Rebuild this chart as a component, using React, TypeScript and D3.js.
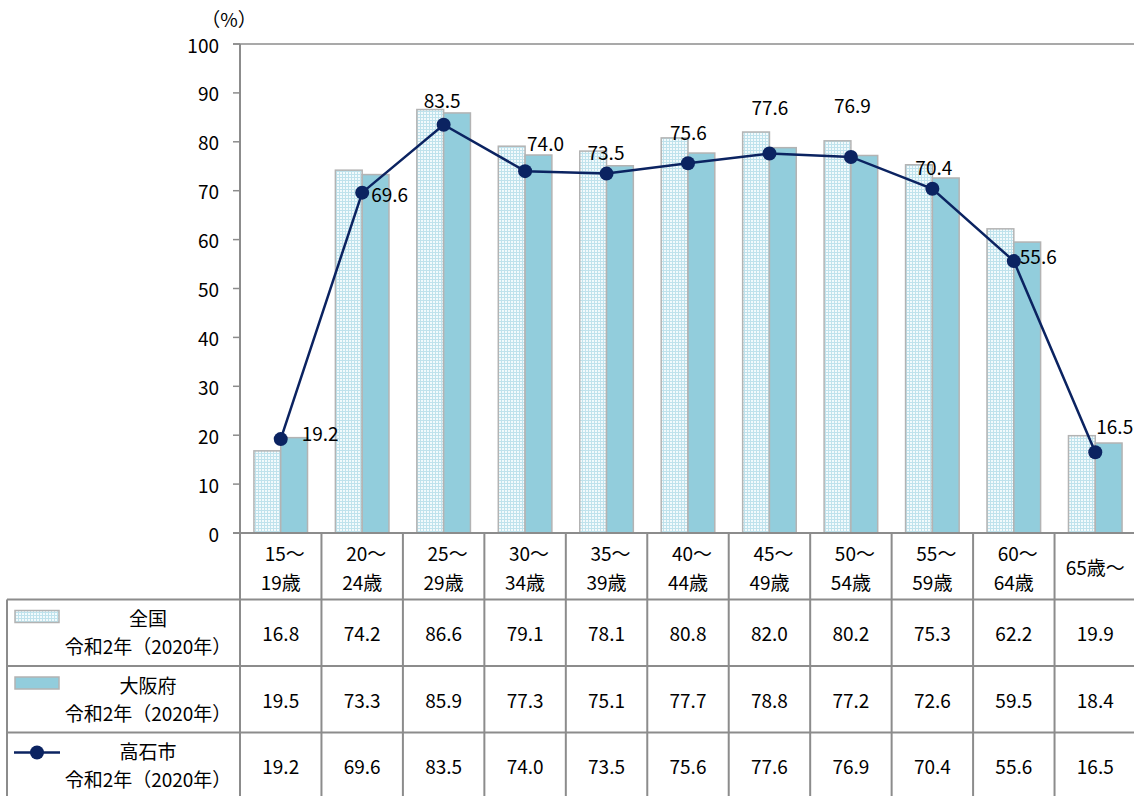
import React from "react";
import * as d3 from "d3";

const categories = ["15～19歳", "20～24歳", "25～29歳", "30～34歳", "35～39歳", "40～44歳", "45～49歳", "50～54歳", "55～59歳", "60～64歳", "65歳～"];
const headerLines = [["15～", "19歳"], ["20～", "24歳"], ["25～", "29歳"], ["30～", "34歳"], ["35～", "39歳"], ["40～", "44歳"], ["45～", "49歳"], ["50～", "54歳"], ["55～", "59歳"], ["60～", "64歳"], ["65歳～"]];
const zenkoku = [16.8, 74.2, 86.6, 79.1, 78.1, 80.8, 82.0, 80.2, 75.3, 62.2, 19.9];
const osaka = [19.5, 73.3, 85.9, 77.3, 75.1, 77.7, 78.8, 77.2, 72.6, 59.5, 18.4];
const takaishi = [19.2, 69.6, 83.5, 74.0, 73.5, 75.6, 77.6, 76.9, 70.4, 55.6, 16.5];
const yTicks = [0, 10, 20, 30, 40, 50, 60, 70, 80, 90, 100];
const seriesNames = ["全国", "大阪府", "高石市"];
const seriesSub = "令和2年（2020年）";

// label offsets from the marker (dx, dy), like the manually placed labels in the original
const labelOffsets = [[21, -7], [9, 1], [-20, -25], [2, -29], [-19, -22], [-18, -32], [-18, -47], [-17, -52], [-17, -22], [6, -6], [1, -27]];

const W = 1134;
const H = 796;
const left = 240;
const right = 1136;
const top = 44;
const bottom = 533;
const rowH = 66.5;
const gridColor = "#8c8c8c";
const font = "'Noto Sans CJK JP', 'Noto Sans', sans-serif";
const fs = 19;

export default function App() {
  const x = d3.scaleBand().domain(categories).range([left, right]);
  const xs = d3.scaleBand().domain(["全国", "大阪府"]).range([0, x.bandwidth()]).paddingOuter(0.52);
  const y = d3.scaleLinear().domain([0, 100]).range([bottom, top]);
  const cx = (i: number) => (x(categories[i]) as number) + x.bandwidth() / 2;

  const line = d3.line<number>().x((_, i) => cx(i)).y(d => y(d));

  const rows = [zenkoku, osaka, takaishi];
  const tableBottom = bottom + rowH * 4;

  return (
    <svg width={W} height={H} style={{ position: "absolute", left: 0, top: 0, background: "#fff" }} fontFamily={font} fill="#000">
      <defs>
        <pattern id="dots" width="3" height="3" patternUnits="userSpaceOnUse">
          <rect width="3" height="3" fill="#bfe2ec" />
          <rect x="1" y="1" width="2" height="2" fill="#f2fafc" />
        </pattern>
      </defs>

      {/* bars */}
      {categories.map((c, i) => (
        <g key={c}>
          <rect x={(x(c) as number) + (xs("全国") as number)} y={y(zenkoku[i])} width={xs.bandwidth()} height={bottom - y(zenkoku[i])}
            fill="url(#dots)" stroke="#b3b3b3" strokeWidth={1.5} />
          <rect x={(x(c) as number) + (xs("大阪府") as number)} y={y(osaka[i])} width={xs.bandwidth()} height={bottom - y(osaka[i])}
            fill="#92cddc" stroke="#b3b3b3" strokeWidth={1.5} />
        </g>
      ))}

      {/* y axis */}
      <line x1={left} x2={left} y1={top} y2={bottom} stroke={gridColor} strokeWidth={2} />
      <line x1={233} x2={right} y1={top} y2={top} stroke={gridColor} strokeWidth={1.5} />
      {yTicks.map(t => (
        <g key={t}>
          <line x1={233} x2={left} y1={y(t)} y2={y(t)} stroke={gridColor} strokeWidth={1.5} />
          <text x={219} y={y(t)} textAnchor="end" dominantBaseline="central" fontSize={fs}>{t}</text>
        </g>
      ))}
      <text x={229} y={18} textAnchor="middle" dominantBaseline="central" fontSize={fs}>（%）</text>

      {/* line series */}
      <path d={line(takaishi) || ""} fill="none" stroke="#0b2361" strokeWidth={2.5} />
      {takaishi.map((v, i) => (
        <g key={i}>
          <circle cx={cx(i)} cy={y(v)} r={7} fill="#0b2361" />
          <text x={cx(i) + labelOffsets[i][0]} y={y(v) + labelOffsets[i][1]} dominantBaseline="central" fontSize={fs}>{v.toFixed(1)}</text>
        </g>
      ))}

      {/* data table */}
      <line x1={233} x2={right} y1={bottom} y2={bottom} stroke={gridColor} strokeWidth={2} />
      {[1, 2, 3].map(r => (
        <line key={r} x1={7} x2={right} y1={bottom + rowH * r} y2={bottom + rowH * r} stroke={gridColor} strokeWidth={2} />
      ))}
      <line x1={7} x2={7} y1={bottom + rowH} y2={tableBottom} stroke={gridColor} strokeWidth={2} />
      {categories.map((c, i) => (
        <line key={c} x1={x(c) as number} x2={x(c) as number} y1={bottom} y2={tableBottom} stroke={gridColor} strokeWidth={2} />
      ))}
      {headerLines.map((ls, i) => (
        <g key={i}>
          {ls.map((t, j) => (
            <text key={j} x={cx(i) + (ls.length > 1 && j === 0 ? 4 : 0)} y={ls.length > 1 ? bottom + 19 + j * 29 : bottom + 33}
              textAnchor="middle" dominantBaseline="central" fontSize={fs}>{t}</text>
          ))}
        </g>
      ))}
      {rows.map((vals, r) => (
        <g key={r}>
          {vals.map((v, i) => (
            <text key={i} x={cx(i)} y={bottom + rowH * (r + 1) + rowH / 2} textAnchor="middle" dominantBaseline="central" fontSize={fs}>{v.toFixed(1)}</text>
          ))}
          <text x={148} y={bottom + rowH * (r + 1) + 18} textAnchor="middle" dominantBaseline="central" fontSize={fs}>{seriesNames[r]}</text>
          <text x={148} y={bottom + rowH * (r + 1) + 46} textAnchor="middle" dominantBaseline="central" fontSize={fs}>{seriesSub}</text>
        </g>
      ))}

      {/* legend keys */}
      <rect x={15} y={bottom + rowH + 11} width={44} height={12} fill="url(#dots)" stroke="#b3b3b3" strokeWidth={1.5} />
      <rect x={15} y={bottom + rowH * 2 + 11} width={44} height={12} fill="#92cddc" stroke="#b3b3b3" strokeWidth={1.5} />
      <line x1={14} x2={60} y1={bottom + rowH * 3 + 20} y2={bottom + rowH * 3 + 20} stroke="#0b2361" strokeWidth={2.5} />
      <circle cx={37} cy={bottom + rowH * 3 + 20} r={7} fill="#0b2361" />
    </svg>
  );
}
